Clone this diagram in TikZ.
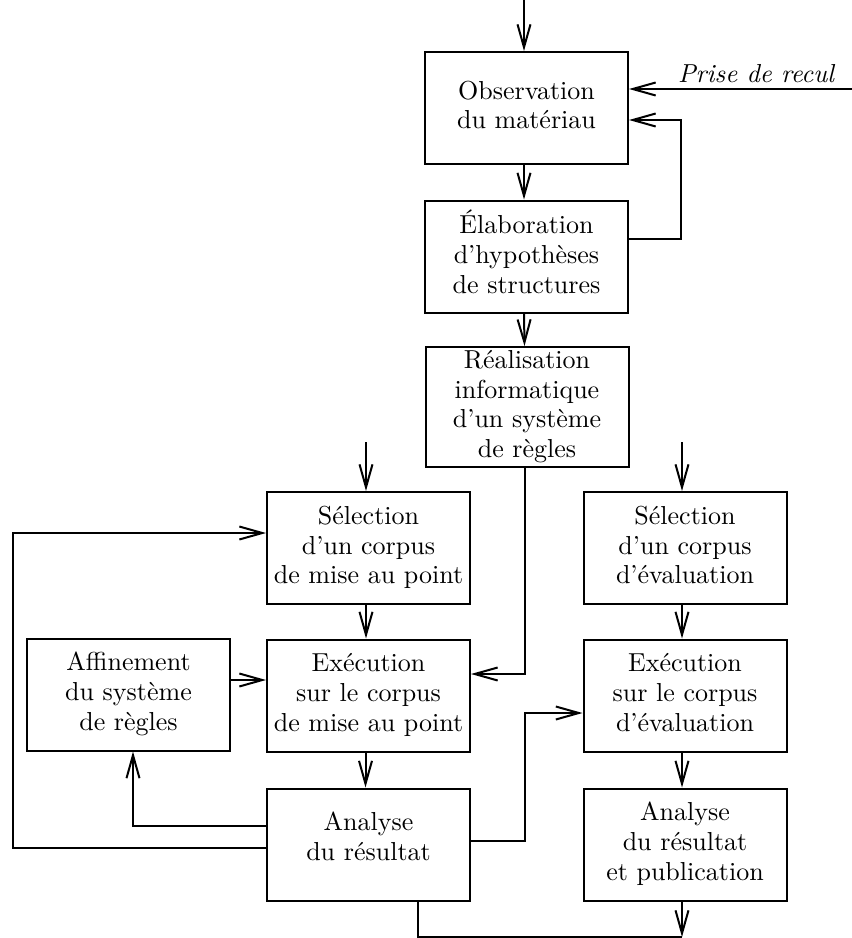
\documentclass[tikz,border=0pt]{standalone}
\usepackage{fontspec}
\usepackage{graphicx}
\usetikzlibrary{arrows.meta}
\newcommand\lbl[1]{\scalebox{2.6}{\def\arraystretch{0.96}\begin{tabular}{@{}c@{}}#1\end{tabular}}}
\tikzset{
  box/.style={draw, line width=2pt, minimum width=203pt, minimum height=112pt, inner sep=0pt},
  ln/.style={line width=2pt},
  arr/.style={ln, -{Straight Barb[length=23pt,width=13pt]}},
}
\begin{document}
\begin{tikzpicture}[x=1pt,y=-1pt]
\useasboundingbox (0,0) rectangle (852,938);
% boxes
\node[box] (obs)  at (526.5,108)   {\lbl{Observation\\du matériau}};
\node[box] (ela)  at (526.5,256.5) {\lbl{Élaboration\\d'hypothèses\\de structures}};
\node[box] (rea)  at (527,407)     {\lbl{Réalisation\\informatique\\d'un système\\de règles}};
\node[box] (sel1) at (368.5,548)   {\lbl{Sélection\\d'un corpus\\de mise au point}};
\node[box] (exe1) at (368.5,695.5) {\lbl{Exécution\\sur le corpus\\de mise au point}};
\node[box] (ana1) at (368.5,844.5) {\lbl{Analyse\\du résultat\rule[-7.3pt]{0pt}{0pt}}};
\node[box] (aff)  at (128.5,694.5) {\lbl{Affinement\\du système\\de règles}};
\node[box] (sel2) at (685,548)     {\lbl{Sélection\\d'un corpus\\d'évaluation}};
\node[box] (exe2) at (685,695.5)   {\lbl{Exécution\\sur le corpus\\d'évaluation}};
\node[box] (ana2) at (685,844.5)   {\lbl{Analyse\\du résultat\\et publication}};
% label
\node[anchor=base, inner sep=0pt] (prlbl) at (756,82) {\scalebox{2.6}{\itshape Prise de recul}};
% free ends
\coordinate (in0) at (524,0);
\coordinate (in1) at (366,442);
\coordinate (in2) at (682,442);
\coordinate (pr)  at (852,89);
\coordinate (out) at (682,937);
\coordinate (loopR) at (681,0);
\coordinate (xR) at (525,0);
\coordinate (xA) at (133,0);
\coordinate (xL) at (13,0);
% connectors
\draw[arr] (in0) -- (in0 |- obs.north);
\draw[arr] (pr) -- (pr -| obs.east);
\draw[arr] ([xshift=-2.5pt]obs.south) -- ([xshift=-2.5pt]ela.north);
\coordinate (elao) at ([yshift=17.5pt]ela.east);
\coordinate (obsi) at ([yshift=-12pt]obs.east);
\draw[arr] (elao) -- (elao -| loopR) -- (obsi -| loopR) -- (obsi);
\draw[arr] ([xshift=-2.5pt]ela.south) -- ([xshift=-2.5pt]rea.north);
\coordinate (exe1i) at ([yshift=21.5pt]exe1.east);
\draw[arr] ([xshift=-2pt]rea.south) |- (exe1i);
\draw[arr] (in1) -- (in1 |- sel1.north);
\draw[arr] (in2) -- (in2 |- sel2.north);
\draw[arr] ([xshift=-2.5pt]sel1.south) -- ([xshift=-2.5pt]exe1.north);
\draw[arr] ([xshift=-3pt]exe1.south) -- ([xshift=-3pt]ana1.north);
\coordinate (affo) at ([yshift=14.5pt]aff.east);
\draw[arr] (affo) -- (affo -| exe1.west);
\coordinate (ana1a) at ([yshift=18.5pt]ana1.west);
\draw[arr] (ana1a) -- (ana1a -| xA) -- (xA |- aff.south);
\coordinate (ana1b) at ([yshift=-3.5pt]ana1.west);
\coordinate (sel1i) at ([yshift=15pt]sel1.west);
\draw[arr] (ana1b) -- (ana1b -| xL) -- (sel1i -| xL) -- (sel1i);
\coordinate (ana1c) at ([yshift=3.5pt]ana1.east);
\coordinate (exe2i) at ([yshift=-17.5pt]exe2.west);
\draw[arr] (ana1c) -- (ana1c -| xR) -- (exe2i -| xR) -- (exe2i);
\draw[arr] ([xshift=-3pt]sel2.south) -- ([xshift=-3pt]exe2.north);
\draw[arr] ([xshift=-3pt]exe2.south) -- ([xshift=-3pt]ana2.north);
\draw[arr] ([xshift=-3pt]ana2.south) -- (out);
\draw[ln] ([xshift=49.5pt]ana1.south) |- (out);
\end{tikzpicture}
\end{document}
